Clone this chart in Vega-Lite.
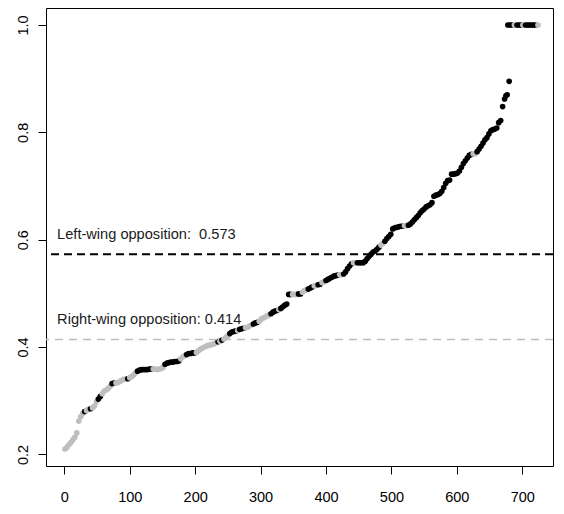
{
  "$schema": "https://vega.github.io/schema/vega-lite/v6.json",
  "width": 507,
  "height": 458,
  "autosize": {"type": "none"},
  "padding": {"left": 46, "top": 8, "right": 11, "bottom": 48},
  "background": "white",
  "config": {
    "view": {"stroke": "black", "strokeWidth": 1},
    "axis": {
      "domain": false,
      "grid": false,
      "ticks": true,
      "tickSize": 8,
      "tickColor": "black",
      "tickWidth": 1,
      "labelFont": "Liberation Sans",
      "labelFontSize": 14.5,
      "labelColor": "black",
      "labelFlush": false,
      "labelOverlap": false,
      "title": null
    }
  },
  "datasets": {
    "pts": [
      {"x":1,"y":0.210,"c":"g"},{"x":4,"y":0.213,"c":"g"},{"x":7,"y":0.218,"c":"g"},{"x":10,"y":0.222,"c":"g"},
      {"x":13,"y":0.227,"c":"g"},{"x":16,"y":0.232,"c":"g"},{"x":19,"y":0.240,"c":"g"},{"x":22,"y":0.262,"c":"g"},
      {"x":25,"y":0.270,"c":"g"},{"x":28,"y":0.276,"c":"g"},{"x":31,"y":0.280,"c":"k"},{"x":34,"y":0.282,"c":"g"},
      {"x":37,"y":0.284,"c":"g"},{"x":40,"y":0.285,"c":"k"},{"x":43,"y":0.287,"c":"g"},{"x":46,"y":0.290,"c":"g"},
      {"x":49,"y":0.298,"c":"g"},{"x":52,"y":0.303,"c":"k"},{"x":55,"y":0.308,"c":"k"},{"x":58,"y":0.313,"c":"g"},
      {"x":61,"y":0.318,"c":"g"},{"x":64,"y":0.320,"c":"g"},{"x":67,"y":0.323,"c":"g"},{"x":70,"y":0.327,"c":"g"},
      {"x":73,"y":0.332,"c":"k"},{"x":76,"y":0.333,"c":"k"},{"x":79,"y":0.333,"c":"g"},{"x":82,"y":0.334,"c":"g"},
      {"x":85,"y":0.336,"c":"g"},{"x":88,"y":0.338,"c":"g"},{"x":91,"y":0.340,"c":"g"},{"x":94,"y":0.341,"c":"g"},
      {"x":97,"y":0.341,"c":"k"},{"x":100,"y":0.343,"c":"g"},{"x":103,"y":0.345,"c":"g"},{"x":106,"y":0.348,"c":"g"},
      {"x":109,"y":0.352,"c":"g"},{"x":112,"y":0.355,"c":"k"},{"x":115,"y":0.357,"c":"k"},{"x":118,"y":0.358,"c":"k"},
      {"x":121,"y":0.358,"c":"k"},{"x":124,"y":0.358,"c":"k"},{"x":127,"y":0.358,"c":"k"},{"x":130,"y":0.359,"c":"k"},
      {"x":133,"y":0.359,"c":"k"},{"x":136,"y":0.359,"c":"g"},{"x":139,"y":0.359,"c":"g"},{"x":142,"y":0.358,"c":"g"},
      {"x":145,"y":0.359,"c":"g"},{"x":148,"y":0.360,"c":"g"},{"x":151,"y":0.362,"c":"g"},{"x":154,"y":0.368,"c":"k"},
      {"x":157,"y":0.370,"c":"k"},{"x":160,"y":0.371,"c":"k"},{"x":163,"y":0.372,"c":"k"},{"x":166,"y":0.372,"c":"k"},
      {"x":169,"y":0.373,"c":"k"},{"x":172,"y":0.373,"c":"k"},{"x":175,"y":0.374,"c":"k"},{"x":178,"y":0.378,"c":"g"},
      {"x":181,"y":0.382,"c":"g"},{"x":184,"y":0.384,"c":"g"},{"x":187,"y":0.386,"c":"k"},{"x":190,"y":0.388,"c":"k"},
      {"x":193,"y":0.388,"c":"k"},{"x":196,"y":0.389,"c":"k"},{"x":199,"y":0.389,"c":"k"},{"x":202,"y":0.390,"c":"g"},
      {"x":205,"y":0.393,"c":"g"},{"x":208,"y":0.396,"c":"g"},{"x":211,"y":0.398,"c":"g"},{"x":214,"y":0.400,"c":"g"},
      {"x":217,"y":0.402,"c":"g"},{"x":220,"y":0.403,"c":"g"},{"x":223,"y":0.404,"c":"g"},{"x":226,"y":0.405,"c":"g"},
      {"x":229,"y":0.406,"c":"g"},{"x":232,"y":0.408,"c":"g"},{"x":235,"y":0.410,"c":"k"},{"x":238,"y":0.411,"c":"g"},
      {"x":241,"y":0.413,"c":"k"},{"x":244,"y":0.415,"c":"g"},{"x":247,"y":0.418,"c":"g"},{"x":250,"y":0.421,"c":"g"},
      {"x":253,"y":0.425,"c":"k"},{"x":256,"y":0.428,"c":"k"},{"x":259,"y":0.429,"c":"k"},{"x":262,"y":0.430,"c":"k"},
      {"x":265,"y":0.431,"c":"g"},{"x":268,"y":0.433,"c":"k"},{"x":271,"y":0.434,"c":"k"},{"x":274,"y":0.435,"c":"k"},
      {"x":277,"y":0.436,"c":"g"},{"x":280,"y":0.437,"c":"g"},{"x":283,"y":0.439,"c":"g"},{"x":286,"y":0.441,"c":"g"},
      {"x":289,"y":0.443,"c":"k"},{"x":292,"y":0.445,"c":"k"},{"x":295,"y":0.446,"c":"k"},{"x":298,"y":0.448,"c":"g"},
      {"x":301,"y":0.452,"c":"g"},{"x":304,"y":0.454,"c":"g"},{"x":307,"y":0.456,"c":"g"},{"x":310,"y":0.458,"c":"g"},
      {"x":313,"y":0.460,"c":"g"},{"x":316,"y":0.462,"c":"k"},{"x":319,"y":0.465,"c":"k"},{"x":322,"y":0.467,"c":"k"},
      {"x":325,"y":0.468,"c":"k"},{"x":328,"y":0.470,"c":"g"},{"x":331,"y":0.472,"c":"k"},{"x":334,"y":0.475,"c":"k"},
      {"x":337,"y":0.478,"c":"k"},{"x":340,"y":0.480,"c":"k"},{"x":343,"y":0.498,"c":"k"},{"x":346,"y":0.498,"c":"k"},
      {"x":349,"y":0.498,"c":"g"},{"x":352,"y":0.498,"c":"g"},{"x":355,"y":0.498,"c":"g"},{"x":358,"y":0.499,"c":"k"},
      {"x":361,"y":0.499,"c":"k"},{"x":364,"y":0.502,"c":"g"},{"x":367,"y":0.505,"c":"g"},{"x":370,"y":0.507,"c":"g"},
      {"x":373,"y":0.508,"c":"k"},{"x":376,"y":0.510,"c":"k"},{"x":379,"y":0.512,"c":"k"},{"x":382,"y":0.514,"c":"g"},
      {"x":385,"y":0.515,"c":"g"},{"x":388,"y":0.516,"c":"k"},{"x":391,"y":0.517,"c":"k"},{"x":394,"y":0.520,"c":"g"},
      {"x":397,"y":0.522,"c":"g"},{"x":400,"y":0.524,"c":"k"},{"x":403,"y":0.526,"c":"k"},{"x":406,"y":0.528,"c":"k"},
      {"x":409,"y":0.530,"c":"k"},{"x":412,"y":0.532,"c":"k"},{"x":415,"y":0.533,"c":"k"},{"x":418,"y":0.534,"c":"k"},
      {"x":421,"y":0.535,"c":"g"},{"x":424,"y":0.535,"c":"g"},{"x":427,"y":0.536,"c":"k"},{"x":430,"y":0.540,"c":"k"},
      {"x":433,"y":0.546,"c":"k"},{"x":436,"y":0.551,"c":"k"},{"x":439,"y":0.555,"c":"k"},{"x":442,"y":0.557,"c":"g"},
      {"x":445,"y":0.557,"c":"g"},{"x":448,"y":0.557,"c":"k"},{"x":451,"y":0.557,"c":"k"},{"x":454,"y":0.557,"c":"k"},
      {"x":457,"y":0.557,"c":"k"},{"x":460,"y":0.560,"c":"k"},{"x":463,"y":0.565,"c":"k"},{"x":466,"y":0.569,"c":"k"},
      {"x":469,"y":0.573,"c":"k"},{"x":472,"y":0.577,"c":"k"},{"x":475,"y":0.579,"c":"k"},{"x":478,"y":0.582,"c":"k"},
      {"x":481,"y":0.586,"c":"k"},{"x":484,"y":0.590,"c":"g"},{"x":487,"y":0.593,"c":"g"},{"x":490,"y":0.597,"c":"k"},
      {"x":493,"y":0.602,"c":"k"},{"x":496,"y":0.606,"c":"k"},{"x":499,"y":0.610,"c":"k"},{"x":502,"y":0.620,"c":"k"},
      {"x":505,"y":0.622,"c":"k"},{"x":508,"y":0.623,"c":"k"},{"x":511,"y":0.624,"c":"k"},{"x":514,"y":0.625,"c":"k"},
      {"x":517,"y":0.625,"c":"k"},{"x":520,"y":0.626,"c":"g"},{"x":523,"y":0.626,"c":"g"},{"x":526,"y":0.627,"c":"k"},
      {"x":529,"y":0.629,"c":"k"},{"x":532,"y":0.633,"c":"k"},{"x":535,"y":0.637,"c":"k"},{"x":538,"y":0.641,"c":"k"},
      {"x":541,"y":0.645,"c":"k"},{"x":544,"y":0.650,"c":"k"},{"x":547,"y":0.654,"c":"k"},{"x":550,"y":0.657,"c":"k"},
      {"x":553,"y":0.661,"c":"k"},{"x":556,"y":0.663,"c":"k"},{"x":559,"y":0.665,"c":"k"},{"x":562,"y":0.669,"c":"k"},
      {"x":565,"y":0.681,"c":"k"},{"x":568,"y":0.683,"c":"k"},{"x":571,"y":0.684,"c":"k"},{"x":574,"y":0.686,"c":"k"},
      {"x":577,"y":0.690,"c":"k"},{"x":580,"y":0.697,"c":"k"},{"x":583,"y":0.705,"c":"k"},{"x":586,"y":0.710,"c":"k"},
      {"x":589,"y":0.711,"c":"k"},{"x":592,"y":0.722,"c":"k"},{"x":595,"y":0.722,"c":"k"},{"x":598,"y":0.723,"c":"k"},
      {"x":601,"y":0.724,"c":"k"},{"x":604,"y":0.728,"c":"k"},{"x":607,"y":0.735,"c":"k"},{"x":610,"y":0.742,"c":"k"},
      {"x":613,"y":0.747,"c":"k"},{"x":616,"y":0.752,"c":"k"},{"x":619,"y":0.757,"c":"k"},{"x":622,"y":0.759,"c":"k"},
      {"x":625,"y":0.760,"c":"g"},{"x":628,"y":0.760,"c":"g"},{"x":631,"y":0.764,"c":"k"},{"x":634,"y":0.769,"c":"k"},
      {"x":637,"y":0.774,"c":"k"},{"x":640,"y":0.780,"c":"k"},{"x":643,"y":0.786,"c":"k"},{"x":646,"y":0.790,"c":"k"},
      {"x":649,"y":0.797,"c":"k"},{"x":652,"y":0.803,"c":"k"},{"x":655,"y":0.805,"c":"k"},{"x":658,"y":0.806,"c":"k"},
      {"x":661,"y":0.808,"c":"k"},{"x":664,"y":0.818,"c":"k"},{"x":667,"y":0.822,"c":"k"},{"x":670,"y":0.848,"c":"k"},
      {"x":673,"y":0.862,"c":"k"},{"x":675,"y":0.868,"c":"k"},{"x":677,"y":0.870,"c":"k"},{"x":680,"y":0.895,"c":"k"},
      {"x":678,"y":1.0,"c":"k"},{"x":681,"y":1.0,"c":"k"},{"x":684,"y":1.0,"c":"k"},{"x":688,"y":1.0,"c":"g"},
      {"x":692,"y":1.0,"c":"k"},{"x":695,"y":1.0,"c":"k"},{"x":698,"y":1.0,"c":"k"},{"x":701,"y":1.0,"c":"g"},
      {"x":705,"y":1.0,"c":"k"},{"x":708,"y":1.0,"c":"k"},{"x":711,"y":1.0,"c":"k"},{"x":714,"y":1.0,"c":"k"},
      {"x":717,"y":1.0,"c":"k"},{"x":720,"y":1.0,"c":"k"},{"x":724,"y":1.0,"c":"g"}
    ],
    "lines": [
      {"y": 0.573, "group": "left"},
      {"y": 0.414, "group": "right"}
    ],
    "labels": [
      {"x": -11, "y": 0.602, "label": "Left-wing opposition:\u00a0 0.573"},
      {"x": -11, "y": 0.443, "label": "Right-wing opposition: 0.414"}
    ]
  },
  "layer": [
    {
      "data": {"name": "pts"},
      "mark": {"type": "circle", "size": 32, "opacity": 1},
      "encoding": {
        "x": {
          "field": "x", "type": "quantitative",
          "scale": {"domain": [-28, 747], "nice": false, "zero": false},
          "axis": {"values": [0, 100, 200, 300, 400, 500, 600, 700], "labelPadding": 16, "labelBaseline": "top", "labelAlign": "center"}
        },
        "y": {
          "field": "y", "type": "quantitative",
          "scale": {"domain": [0.1784, 1.0316], "nice": false, "zero": false},
          "axis": {"values": [0.2, 0.4, 0.6, 0.8, 1.0], "format": ".1f", "labelAngle": 270, "labelAlign": "center", "labelBaseline": "alphabetic", "labelPadding": 11}
        },
        "color": {
          "field": "c", "type": "nominal",
          "scale": {"domain": ["k", "g"], "range": ["#000000", "#bebebe"]},
          "legend": null
        }
      }
    },
    {
      "data": {"name": "lines"},
      "transform": [{"filter": "datum.group === 'left'"}],
      "mark": {"type": "rule", "color": "#000000", "strokeWidth": 2, "strokeDash": [8, 5]},
      "encoding": {"y": {"field": "y", "type": "quantitative"}}
    },
    {
      "data": {"name": "lines"},
      "transform": [{"filter": "datum.group === 'right'"}],
      "mark": {"type": "rule", "color": "#bebebe", "strokeWidth": 1.5, "strokeDash": [8, 6]},
      "encoding": {"y": {"field": "y", "type": "quantitative"}}
    },
    {
      "data": {"name": "labels"},
      "mark": {"type": "text", "align": "left", "baseline": "alphabetic", "font": "Liberation Sans", "fontSize": 14.6, "color": "#1a1a1a"},
      "encoding": {
        "x": {"field": "x", "type": "quantitative"},
        "y": {"field": "y", "type": "quantitative"},
        "text": {"field": "label"}
      }
    }
  ]
}
